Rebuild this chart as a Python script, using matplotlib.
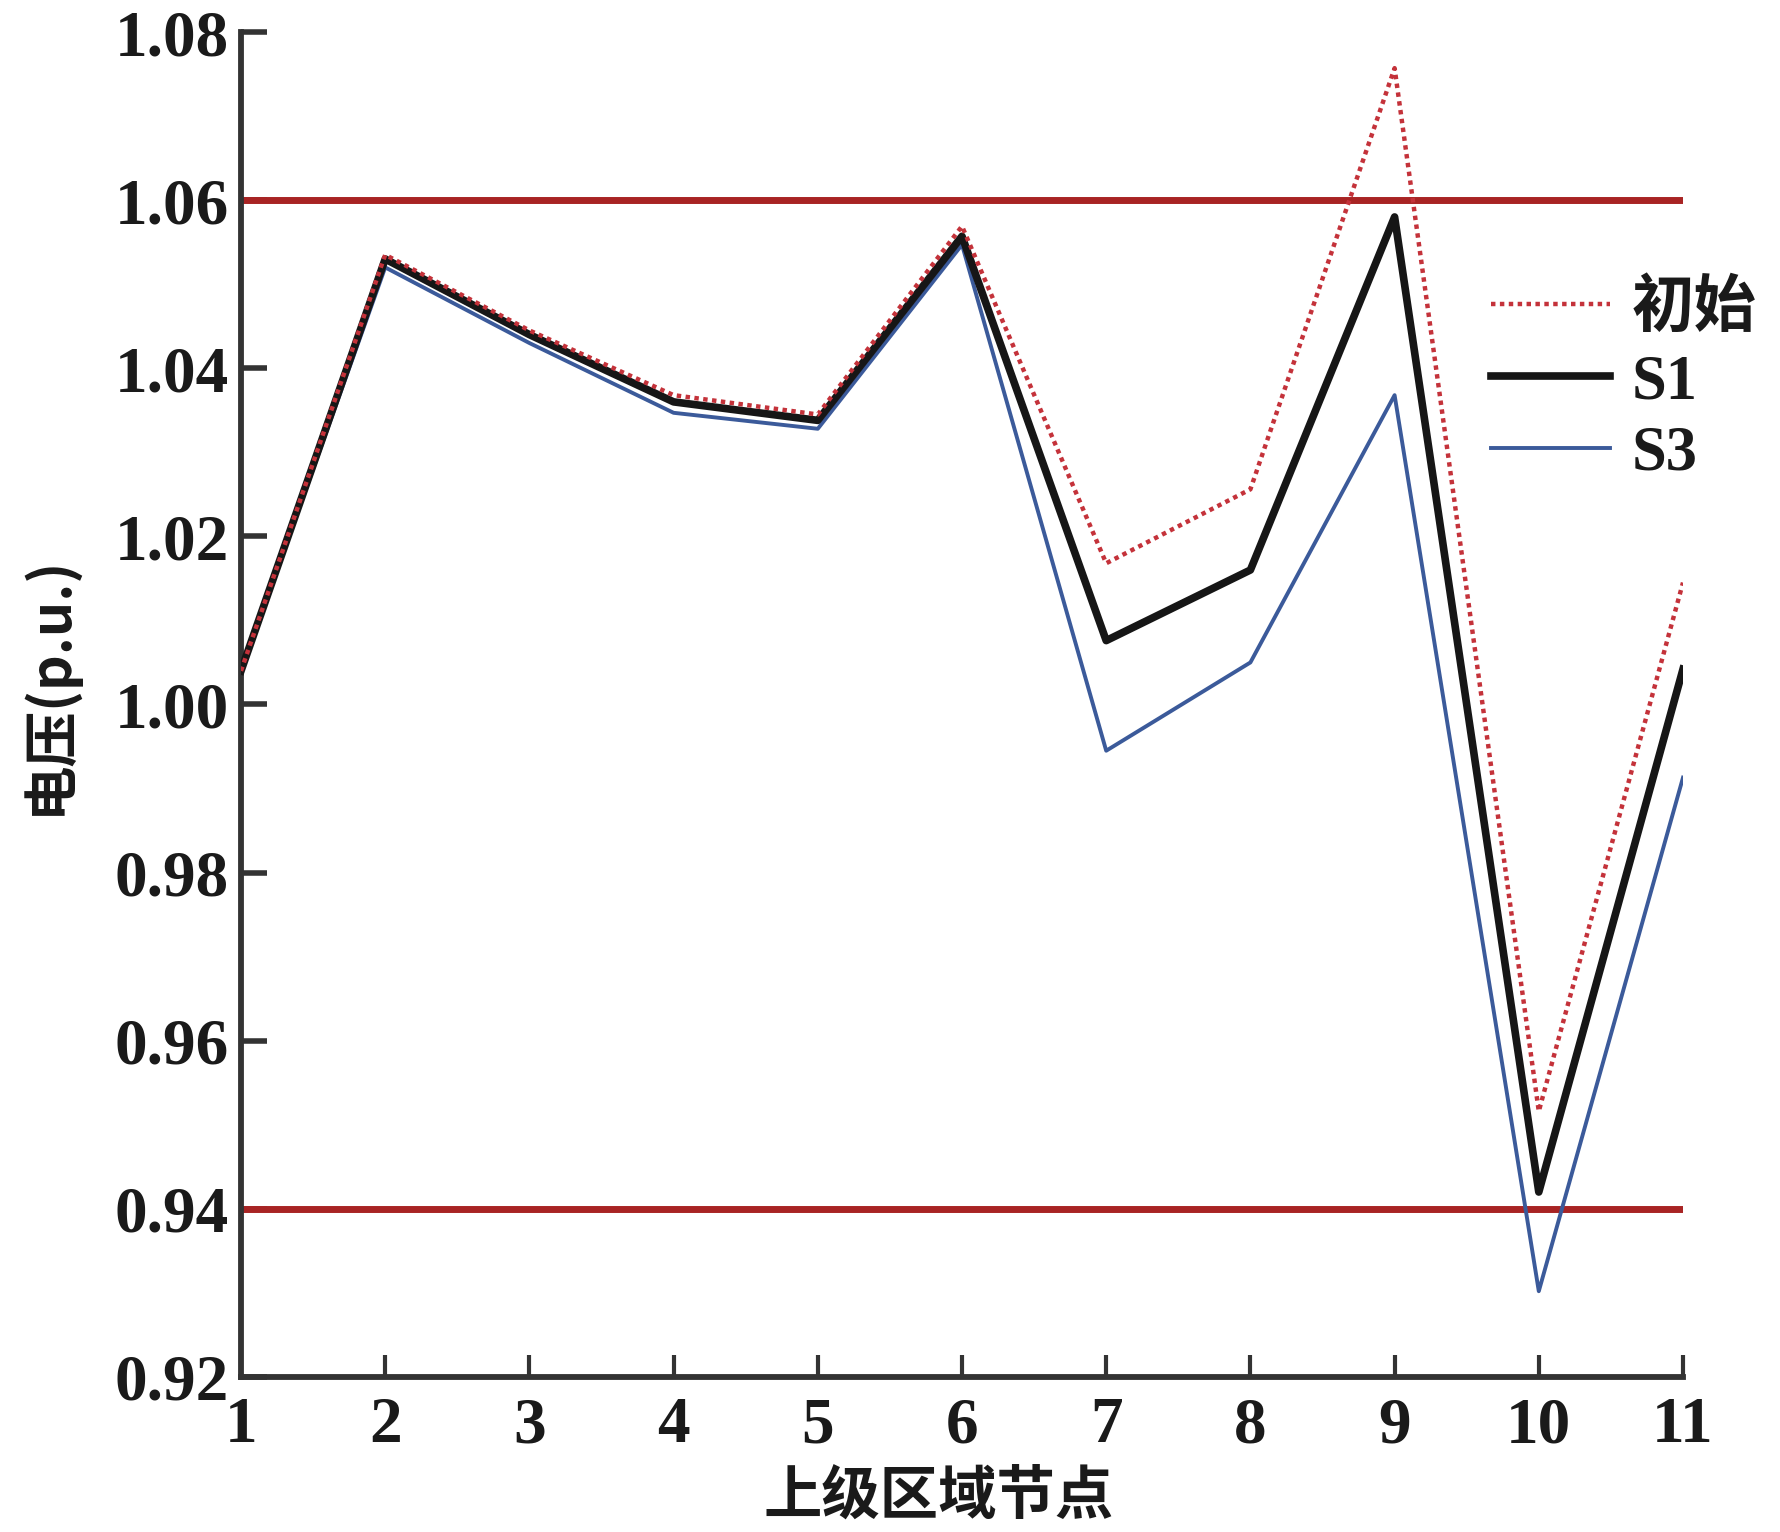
import matplotlib
matplotlib.use("Agg")
import matplotlib.pyplot as plt

nodes = [1, 2, 3, 4, 5, 6, 7, 8, 9, 10, 11]
v_init = [1.0040, 1.0535, 1.0445, 1.0368, 1.0345, 1.0569, 1.0168, 1.0256, 1.0757, 0.9516, 1.0145]
v_s1 = [1.0040, 1.0530, 1.0440, 1.0360, 1.0338, 1.0557, 1.0076, 1.0160, 1.0580, 0.9420, 1.0042]
v_s3 = [1.0040, 1.0520, 1.0430, 1.0347, 1.0328, 1.0547, 0.9945, 1.0050, 1.0368, 0.9302, 0.9913]
limits = [1.06, 0.94]
series_names = ["初始", "S1", "S3"]
yticks = [0.92, 0.94, 0.96, 0.98, 1.00, 1.02, 1.04, 1.06, 1.08]

num_font = "Liberation Serif"
cjk = ["Noto Sans CJK SC", "Liberation Serif"]

fig = plt.figure(figsize=(17.8, 15.32), dpi=100)
ax = fig.add_axes([0.1354, 0.1012, 0.8101, 0.8779])

for lv in limits:
    ax.axhline(lv, color="#a82424", lw=5, zorder=2)

ax.plot(nodes, v_init, color="#c4323a", lw=3.2, ls=(0, (1, 1.0)), label=series_names[0], zorder=5)
ax.plot(nodes, v_s1, color="#161616", lw=5.5, label=series_names[1], zorder=4)
ax.plot(nodes, v_s3, color="#3b5a9a", lw=2.8, label=series_names[2], zorder=3)

ax.set_xlim(1, 11)
ax.set_ylim(0.92, 1.08)
ax.set_xticks(nodes)
ax.set_yticks(yticks)
ax.set_yticklabels([f"{t:.2f}" for t in yticks])

for s in ["top", "right"]:
    ax.spines[s].set_visible(False)
for s in ["left", "bottom"]:
    ax.spines[s].set_linewidth(4.2)
    ax.spines[s].set_color("#333333")

ax.tick_params(axis="y", direction="in", length=19, width=4, color="#333333", pad=9)
ax.tick_params(axis="x", direction="in", length=16, width=3, color="#333333", pad=14)
for lab in ax.get_xticklabels() + ax.get_yticklabels():
    lab.set_fontfamily(num_font)
    lab.set_fontweight("bold")
    lab.set_fontsize(47)
    lab.set_color("#1a1a1a")

ax.set_xlabel("上级区域节点", family=cjk, fontsize=42, fontweight="bold", color="#1a1a1a",
              va="bottom")
ax.xaxis.set_label_coords(0.4835, -0.111)
ax.set_ylabel("电压(p.u.)", family=cjk, fontsize=40, fontweight="bold", color="#1a1a1a")
ax.yaxis.set_label_coords(-0.113, 0.515)

leg = ax.legend(loc="upper right", bbox_to_anchor=(1.09, 0.857), frameon=False,
                handlelength=1.9, handletextpad=0.35, labelspacing=0.22,
                prop={"family": ["Liberation Serif", "Noto Sans CJK SC"], "size": 45, "weight": "bold"})
for t in leg.get_texts():
    t.set_color("#1a1a1a")

fig.savefig("out.png", dpi=100)
